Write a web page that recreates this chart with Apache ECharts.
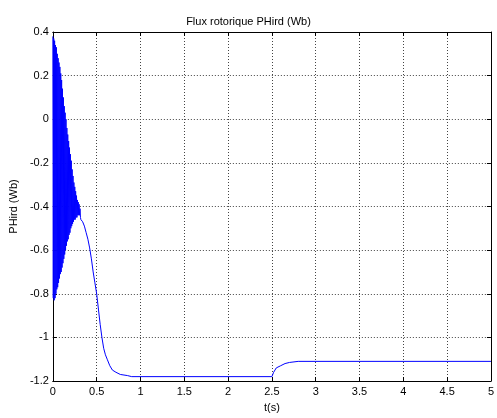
<!DOCTYPE html>
<html>
<head>
<meta charset="utf-8">
<script src="https://cdn.jsdelivr.net/npm/echarts@6/dist/echarts.min.js"></script>
<style>
html,body{margin:0;padding:0;background:#fff;}
#chart{width:497px;height:418px;}
</style>
</head>
<body>
<div id="chart"></div>
<script>
// time (s) and rotor flux PHird (Wb)
var timeValues = [
  0.000,0.005,0.010,0.015,0.020,0.025,0.030,0.035,0.040,0.045,
  0.050,0.055,0.060,0.065,0.070,0.075,0.080,0.085,0.090,0.095,
  0.100,0.105,0.110,0.115,0.120,0.125,0.130,0.135,0.140,0.145,
  0.150,0.155,0.160,0.165,0.170,0.175,0.180,0.185,0.190,0.195,
  0.200,0.205,0.210,0.215,0.220,0.225,0.230,0.235,0.240,0.245,
  0.250,0.255,0.260,0.265,0.270,0.275,0.280,0.285,0.290,0.295,
  0.300,0.305,0.310,0.315,0.320,
  0.34,0.36,0.38,0.40,0.42,0.44,0.46,0.48,0.50,0.52,0.54,0.56,0.58,0.60,
  0.62,0.65,0.68,0.72,0.77,0.85,0.90,
  2.50,2.52,2.55,2.60,2.65,2.70,2.80,5.00
];
var fluxValues = [
  0.38,-0.82,0.37,-0.83,0.36,-0.82,0.34,-0.80,0.33,-0.78,
  0.30,-0.77,0.28,-0.75,0.26,-0.73,0.24,-0.71,0.21,-0.70,
  0.18,-0.68,0.14,-0.66,0.10,-0.64,0.06,-0.62,0.03,-0.60,
  0.00,-0.58,-0.04,-0.56,-0.07,-0.55,-0.10,-0.53,-0.13,-0.52,
  -0.16,-0.50,-0.19,-0.49,-0.23,-0.48,-0.26,-0.47,-0.29,-0.46,
  -0.31,-0.46,-0.33,-0.45,-0.35,-0.45,-0.37,-0.44,-0.38,-0.44,
  -0.39,-0.44,-0.41,-0.45,-0.46,
  -0.47,-0.49,-0.52,-0.55,-0.59,-0.64,-0.70,-0.75,-0.80,-0.87,-0.94,-1.00,-1.05,-1.08,
  -1.10,-1.13,-1.15,-1.16,-1.17,-1.175,-1.18,
  -1.18,-1.16,-1.14,-1.13,-1.12,-1.115,-1.11,-1.11
];
var xTicks = ['0','0.5','1','1.5','2','2.5','3','3.5','4','4.5','5'];
var yTicks = ['-1.2','-1','-0.8','-0.6','-0.4','-0.2','0','0.2','0.4'];

var seriesData = timeValues.map(function(t, i){ return [t, fluxValues[i]]; });

var font = 'Liberation Sans, Arial, sans-serif';
var chart = echarts.init(document.getElementById('chart'), null, {renderer:'canvas'});
var tickStyle = {show:true, inside:true, length:4, lineStyle:{color:'#000', width:1}};
var gridLine = {show:true, lineStyle:{color:'#444', width:1, type:[1,2]}};
chart.setOption({
  backgroundColor:'#fff',
  animation:false,
  title:{
    text:'Flux rotorique PHird (Wb)',
    left:'center', top:11,
    textStyle:{fontFamily:font, fontSize:11, fontWeight:'normal', color:'#000'}
  },
  grid:{left:50, top:32, right:3, bottom:35, containLabel:false},
  xAxis:[{
    type:'value', min:0, max:5, interval:0.5, position:'bottom',
    name:'t(s)', nameLocation:'middle', nameGap:21,
    nameTextStyle:{fontFamily:font, fontSize:11, color:'#000'},
    axisLine:{show:true, onZero:false, lineStyle:{color:'#000', width:1}},
    axisTick:tickStyle,
    axisLabel:{fontFamily:font, fontSize:11, color:'#000', margin:5,
      formatter:function(v){ var i = Math.round(v/0.5); return xTicks[i]; }},
    splitLine:gridLine
  },{
    type:'value', min:0, max:5, interval:0.5, position:'top',
    axisLine:{show:true, onZero:false, lineStyle:{color:'#000', width:1}},
    axisTick:tickStyle, axisLabel:{show:false}, splitLine:{show:false}
  }],
  yAxis:[{
    type:'value', min:-1.2, max:0.4, interval:0.2, position:'left',
    name:'PHird (Wb)', nameLocation:'middle', nameGap:31,
    nameTextStyle:{fontFamily:font, fontSize:11, color:'#000'},
    axisLine:{show:true, onZero:false, lineStyle:{color:'#000', width:1}},
    axisTick:tickStyle,
    axisLabel:{fontFamily:font, fontSize:11, color:'#000', margin:4,
      formatter:function(v){ var i = Math.round((v+1.2)/0.2); return yTicks[i]; }},
    splitLine:gridLine
  },{
    type:'value', min:-1.2, max:0.4, interval:0.2, position:'right',
    axisLine:{show:true, onZero:false, lineStyle:{color:'#000', width:1}},
    axisTick:tickStyle, axisLabel:{show:false}, splitLine:{show:false}
  }],
  series:[{
    type:'line', xAxisIndex:0, yAxisIndex:0,
    data:seriesData, showSymbol:false, symbol:'none',
    lineStyle:{color:'#0000ff', width:1}, itemStyle:{color:'#0000ff'}
  }]
});
</script>
</body>
</html>
